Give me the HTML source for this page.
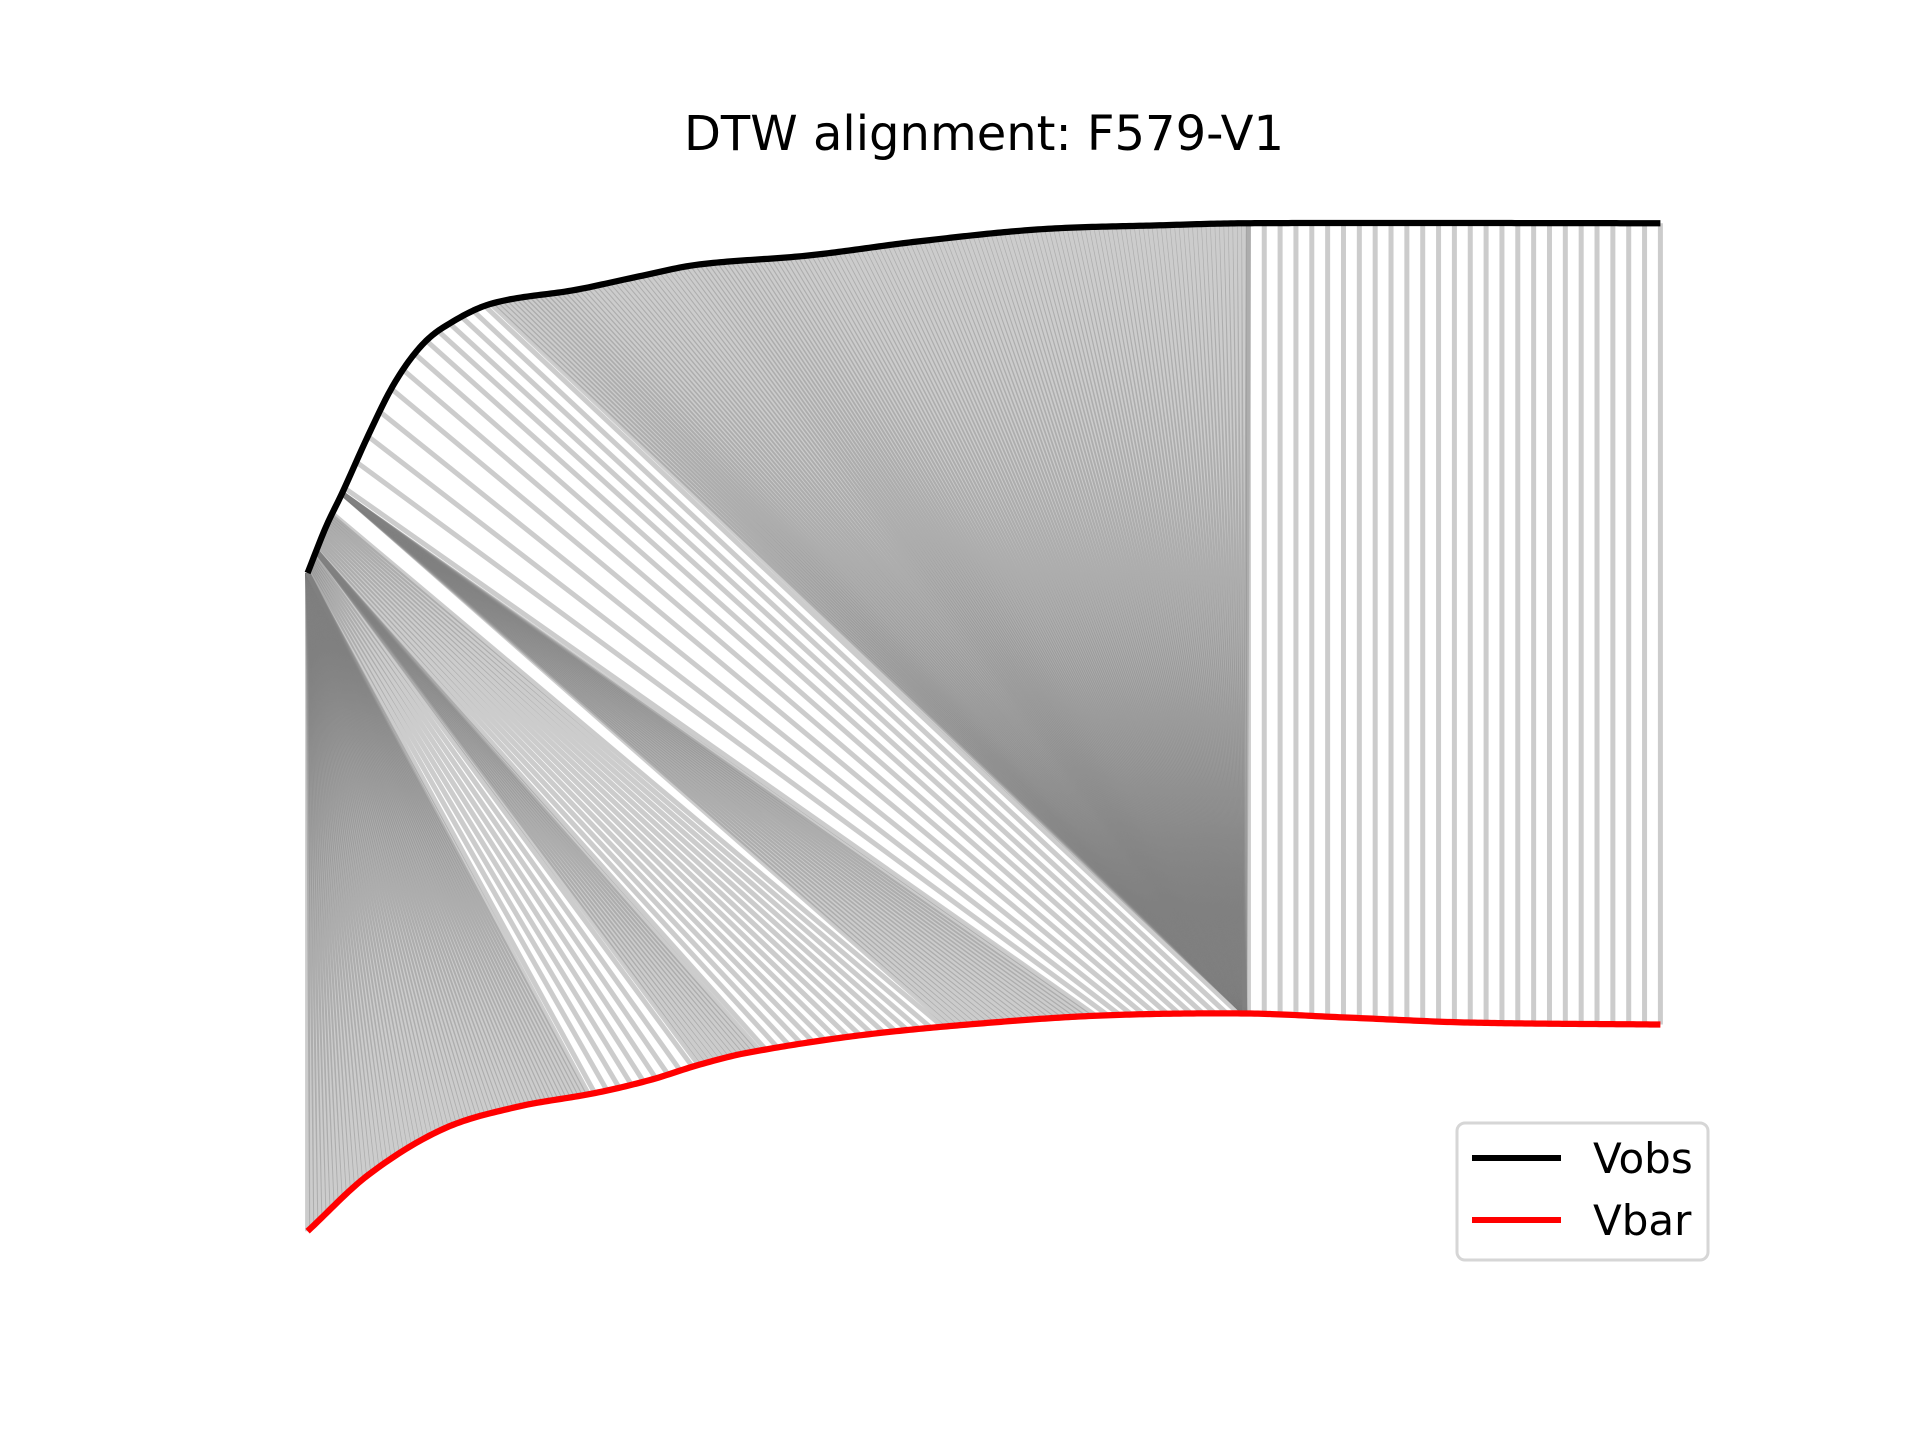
<!DOCTYPE html>
<html><head><meta charset="utf-8"><style>
html,body{margin:0;padding:0;background:#fff;}
svg{display:block;font-family:"DejaVu Sans","Liberation Sans",sans-serif;}
</style></head>
<body>
<svg id="chart" width="1920" height="1440" viewBox="0 0 1920 1440" xmlns="http://www.w3.org/2000/svg">
<rect width="1920" height="1440" fill="#fff"/>
<text x="984" y="150" text-anchor="middle" font-size="48" fill="#000">DTW alignment: F579-V1</text>
<g id="links"></g>
<g id="curves"></g>
<g>
<rect x="1457" y="1123" width="251" height="137" rx="8" fill="#fff" fill-opacity="0.8" stroke="#d6d6d6" stroke-width="3"/>
<line x1="1472" y1="1158" x2="1561" y2="1158" stroke="#000" stroke-width="6"/>
<text x="1593" y="1173" font-size="42" fill="#000">Vobs</text>
<line x1="1472" y1="1220" x2="1561" y2="1220" stroke="#ff0000" stroke-width="6"/>
<text x="1593" y="1235" font-size="42" fill="#000">Vbar</text>
</g>
</svg>
<script>
// Vobs curve samples (R, velocity units where 100 = top, 0 = bottom)
const obsR = [0, 0.30, 0.56, 0.99, 1.39, 1.80, 2.19, 2.98, 4.37, 5.37, 6.36, 8.15, 9.94, 11.92, 13.91, 15.30, 22];
const obsV = [65.3, 69.9, 73.2, 79.0, 83.9, 87.5, 89.6, 92.0, 93.4, 94.7, 95.9, 96.8, 98.2, 99.4, 99.8, 100, 100];
// Vbar curve samples
const barR = [0, 0.99, 2.19, 3.38, 4.67, 5.57, 6.36, 7.15, 8.94, 10.93, 12.92, 15.24, 16.89, 18.88, 22];
const barV = [0, 5.6, 10.1, 12.3, 13.7, 15.0, 16.5, 17.7, 19.4, 20.6, 21.4, 21.6, 21.2, 20.7, 20.5];
// DTW alignment segments: obs R start, obs R end, bar R start, bar R end, number of links
const segObsStart = [0, 0.02, 0.14, 0.16, 0.56, 0.60, 2.98, 15.30];
const segObsEnd   = [0, 0.12, 0.14, 0.40, 0.56, 2.88, 15.30, 22];
const segBarStart = [0, 4.67, 6.36, 7.45, 10.43, 12.82, 15.24, 15.30];
const segBarEnd   = [4.57, 6.26, 7.35, 10.33, 12.72, 15.14, 15.24, 22];
const segCount    = [70, 9, 14, 16, 24, 13, 170, 27];

const xMin = 0, xMax = 22, vMin = 0, vMax = 100;
const X = r => 307.6 + (r - xMin) / (xMax - xMin) * 1352.8;
const Y = v => 1231.2 - (v - vMin) / (vMax - vMin) * 1008;
// Hermite evaluation for smooth curve
function interp(rs, vs, r) {
  if (r <= rs[0]) return vs[0];
  const n = rs.length;
  for (let i = 1; i < n; i++) {
    if (r <= rs[i]) {
      const t = (r - rs[i-1]) / (rs[i] - rs[i-1]);
      const p0 = vs[Math.max(i-2,0)], p1 = vs[i-1], p2 = vs[i], p3 = vs[Math.min(i+1,n-1)];
      const h = rs[i] - rs[i-1];
      const m1 = (p2 - p0) / (rs[i] - rs[Math.max(i-2,0)]) * h;
      const m2 = (p3 - p1) / (rs[Math.min(i+1,n-1)] - rs[i-1]) * h;
      const t2 = t*t, t3 = t2*t;
      return (2*t3-3*t2+1)*p1 + (t3-2*t2+t)*m1 + (-2*t3+3*t2)*p2 + (t3-t2)*m2;
    }
  }
  return vs[n - 1];
}
const NS = 'http://www.w3.org/2000/svg';
const links = document.getElementById('links');
for (let s = 0; s < segCount.length; s++) {
  const n = segCount[s];
  for (let k = 0; k < n; k++) {
    const t = n > 1 ? k / (n - 1) : 0;
    const ro = segObsStart[s] + t * (segObsEnd[s] - segObsStart[s]);
    const rb = segBarStart[s] + t * (segBarEnd[s] - segBarStart[s]);
    const l = document.createElementNS(NS, 'line');
    l.setAttribute('x1', X(ro)); l.setAttribute('y1', Y(interp(obsR, obsV, ro)));
    l.setAttribute('x2', X(rb)); l.setAttribute('y2', Y(interp(barR, barV, rb)));
    l.setAttribute('stroke', '#808080'); l.setAttribute('stroke-opacity', '0.4');
    l.setAttribute('stroke-width', '5');
    
    
    links.appendChild(l);
  }
}
const curves = document.getElementById('curves');
function drawCurve(rs, vs, color, name) {
  const pts = [];
  const r0 = rs[0], r1 = rs[rs.length-1];
  for (let k = 0; k <= 400; k++) {
    const r = r0 + (r1 - r0) * k / 400;
    pts.push(X(r).toFixed(2) + ',' + Y(interp(rs, vs, r)).toFixed(2));
  }
  const p = document.createElementNS(NS, 'polyline');
  p.setAttribute('points', pts.join(' '));
  p.setAttribute('fill', 'none'); p.setAttribute('stroke', color);
  p.setAttribute('stroke-width', '6.25'); p.setAttribute('stroke-linejoin', 'round');
  
  
  curves.appendChild(p);
}
drawCurve(barR, barV, '#ff0000', 'vbar-line');
drawCurve(obsR, obsV, '#000000', 'vobs-line');
</script>
</body></html>
